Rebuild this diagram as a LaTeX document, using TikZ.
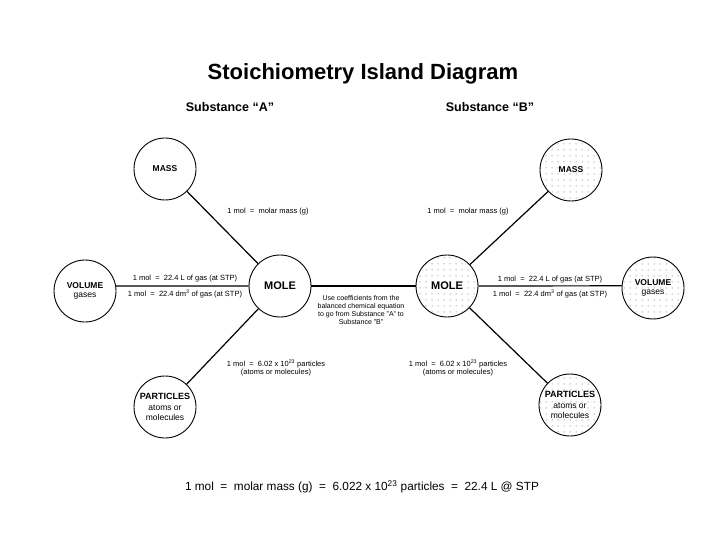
\documentclass[tikz,border=0pt]{standalone}
\usepackage{fontspec}
\setmainfont{Liberation Sans}
\usetikzlibrary{patterns.meta}
\begin{document}
\begin{tikzpicture}[x=1pt,y=-1pt,
  island/.style={circle,draw,line width=0.9pt,minimum size=62pt,inner sep=0pt,align=center},
  islandB/.style={island,pattern={Dots[distance=6pt,radius=0.5pt]},pattern color=black!70},
  link/.style={line width=1.2pt},
  lab/.style={font=\fontsize{7.5}{8.5}\selectfont,inner sep=0pt,align=center},
  nbig/.style={font=\fontsize{11}{12}\selectfont\bfseries},
  nsmall/.style={font=\fontsize{8.5}{10.5}\selectfont},
  ]
\useasboundingbox (0,0) rectangle (720,540);
% titles
\node (title) at (363,74) {\fontsize{22}{24}\selectfont\bfseries Stoichiometry Island Diagram};
\node (subA) at (230,107) {\fontsize{12.5}{14}\selectfont\bfseries Substance “A”};
\node (subB) at (490,107) {\fontsize{12.5}{14}\selectfont\bfseries Substance “B”};
% substance A islands
\node[island,nsmall] (massA) at (165,169) {\textbf{MASS}};
\node[island,nsmall] (volA) at (85,291) {\textbf{VOLUME}\\[-1pt]gases};
\node[island,nbig] (moleA) at (280,286) {MOLE};
\node[island,nsmall] (partA) at (165,407) {\fontsize{9}{10.5}\selectfont\textbf{PARTICLES}\\atoms or\\molecules};
% substance B islands
\node[islandB,nsmall] (massB) at (571,170) {\textbf{MASS}};
\node[islandB,nbig] (moleB) at (447,286) {MOLE};
\node[islandB,nsmall] (volB) at (653,288) {\textbf{VOLUME}\\[-1pt]gases};
\node[islandB,nsmall] (partB) at (570,405) {\fontsize{9}{10.5}\selectfont\textbf{PARTICLES}\\atoms or\\molecules};
% connectors
\draw[link] (massA) -- (moleA);
\draw[link] (partA) -- (moleA);
\draw[link] (moleA.west) -- (volA.9);
\draw[link] (moleA.east) -- (moleB.west);
\draw[link] (massB) -- (moleB);
\draw[link] (partB) -- (moleB);
\draw[link] (moleB.east) -- (volB.176);
% labels
\node[lab] (lmA) at (268,212) {1 mol\ \ =\ \ molar mass (g)};
\node[lab] (lmB) at (468,212) {1 mol\ \ =\ \ molar mass (g)};
\node[lab] (lvA1) at (185,279) {1 mol\ \ =\ \ 22.4 L of gas (at STP)};
\node[lab] (lvA2) at (185,294) {1 mol\ \ =\ \ 22.4 dm\textsuperscript{3} of gas (at STP)};
\node[lab] (lvB1) at (550,280) {1 mol\ \ =\ \ 22.4 L of gas (at STP)};
\node[lab] (lvB2) at (550,294) {1 mol\ \ =\ \ 22.4 dm\textsuperscript{3} of gas (at STP)};
\node[lab] (lpA) at (276,368) {1 mol\ \ =\ \ 6.02 x 10\textsuperscript{23} particles\\(atoms or molecules)};
\node[lab] (lpB) at (458,368) {1 mol\ \ =\ \ 6.02 x 10\textsuperscript{23} particles\\(atoms or molecules)};
\node[lab,font=\fontsize{7}{7.8}\selectfont] (coef) at (361,310) {Use coefficients from the\\balanced chemical equation\\to go from Substance "A" to\\Substance "B"};
% bottom formula
\node (formula) at (362,487) {\fontsize{11.8}{13}\selectfont 1 mol\ \ =\ \ molar mass (g)\ \ =\ \ 6.022 x 10\textsuperscript{23} particles\ \ =\ \ 22.4 L @ STP};
\end{tikzpicture}
\end{document}
